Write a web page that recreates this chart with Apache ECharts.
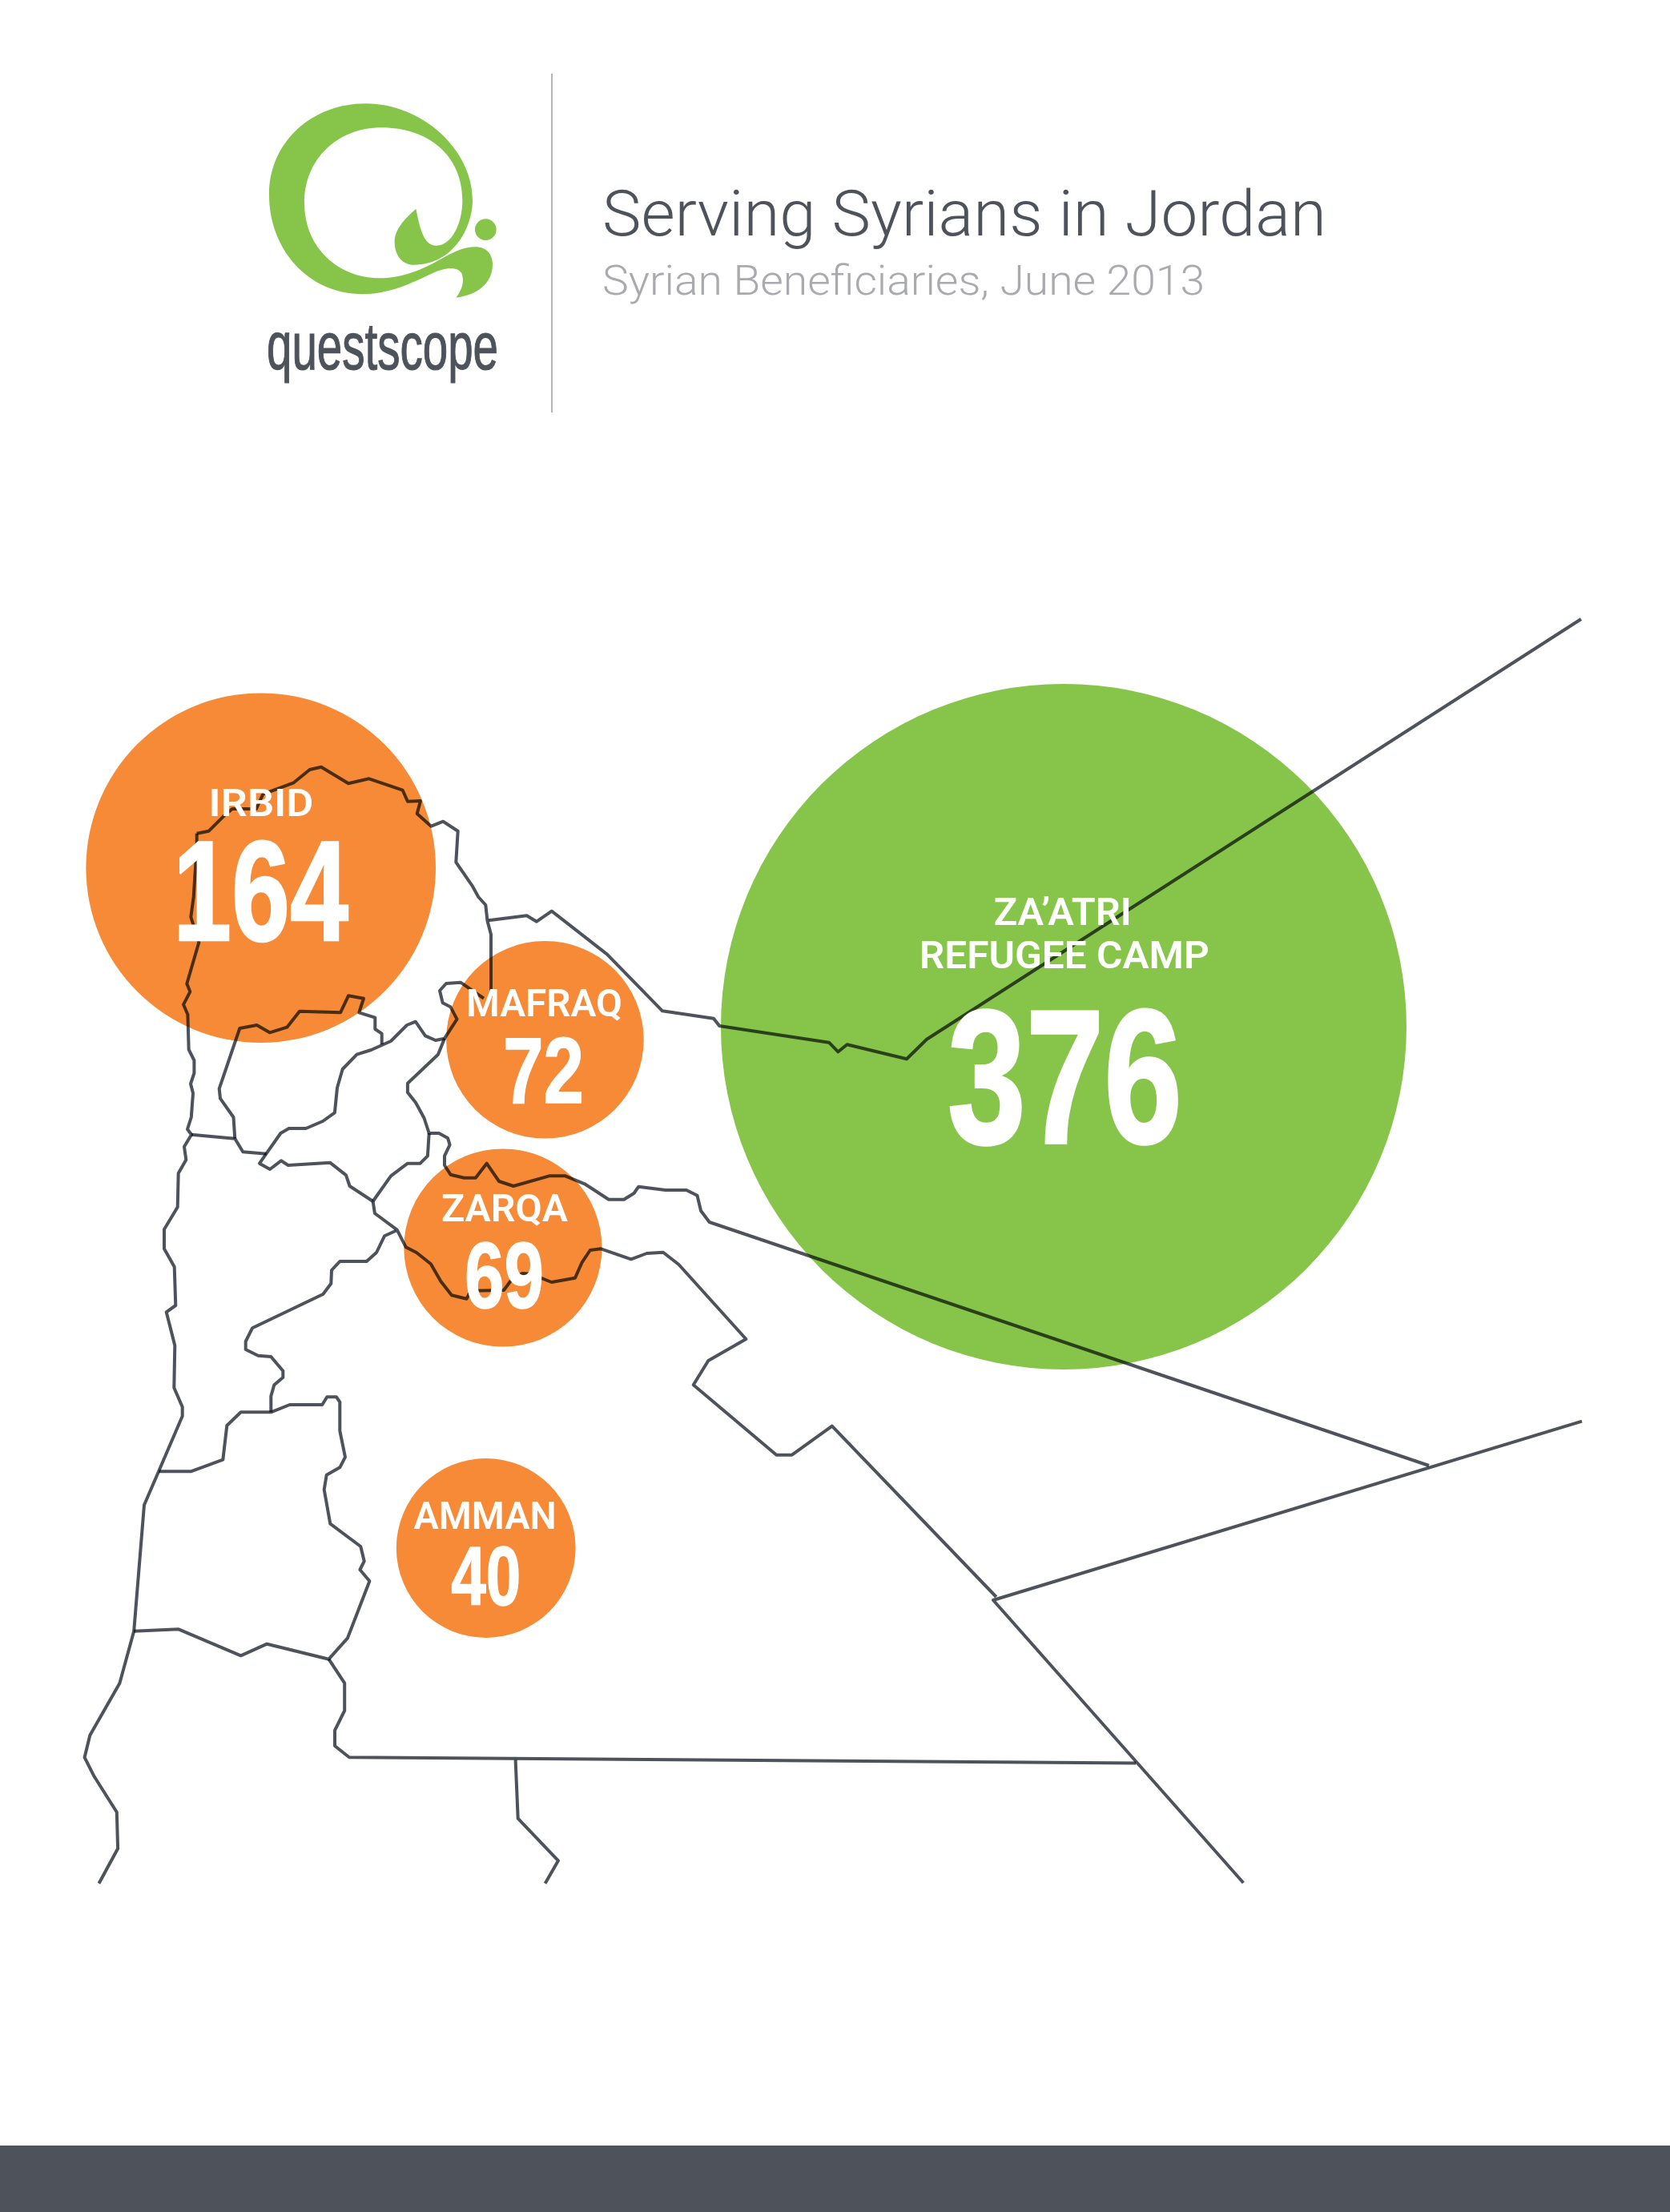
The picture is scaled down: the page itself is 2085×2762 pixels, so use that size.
<!DOCTYPE html>
<html>
<head>
<meta charset="utf-8">
<title>Serving Syrians in Jordan</title>
<style>
  html, body { margin: 0; padding: 0; background: #fff; }
  #chart { width: 2085px; height: 2762px; }
</style>
<script src="https://cdn.jsdelivr.net/npm/echarts@6/dist/echarts.min.js"></script>
</head>
<body>
<div id="chart"></div>
<script>
// data
var titleText = 'Serving Syrians in Jordan';
var subtitleText = 'Syrian Beneficiaries, June 2013';
var logoText = 'questscope';
var regionNames = ['IRBID', 'MAFRAQ', 'ZARQA', 'AMMAN', 'ZA\u2019ATRI\nREFUGEE CAMP'];
var beneficiaries = [164, 72, 69, 40, 376];
var regionX = [325.7, 680.4, 627.9, 606.7, 1328];
var regionY = [1083.7, 1298.3, 1558, 1933, 1282];

// map borders, in the same units as the axes
var northBorder = [[245.7,1040.7],[260.7,1037.7],[280,1018.3],[290,1010],[320,1010],[328.3,991.7],[366.7,977.3],[386.7,961],[401,957.7],[435,978.3],[460.7,972.3],[502.7,986.7],[509,1000.7],[525,1000],[520.7,1016],[538.3,1031.7],[553.3,1025.7],[571.7,1037.7],[569.3,1076.7],[590,1106.7],[597.3,1120],[606.3,1130],[608.5,1150],[613,1166.7],[613,1245]];
var mafraqLoop = [[604,1246.7],[575,1226.7],[557,1228],[549,1237],[552.7,1252.3],[562.5,1257.3],[570.5,1272.7],[555,1296.7],[543.8,1299],[531,1293.3],[518.8,1275.7],[508,1280],[488,1300],[463.4,1311],[445.5,1316.7],[427.7,1335],[421,1358.3],[417.9,1389.3],[403,1400],[382,1409],[360.7,1409],[350.4,1415],[331.7,1441.7],[324,1452.7],[337,1460],[350.9,1449.3],[359.8,1455],[412,1451.7],[432,1467.3],[436.6,1481],[465.6,1500]];
var centralBorder = [[555,1296.7],[546.9,1316.7],[508.9,1352.7],[508.9,1364],[519,1376.7],[529.5,1396],[535.7,1415],[548,1415],[559,1421],[561.6,1429.3],[555,1443.3],[555,1455],[562.5,1466.7],[579.5,1470.7],[593.8,1470.7],[607.6,1452.7],[623,1475],[641,1481],[685.7,1468.3],[705.8,1468.3],[730,1478.3],[760,1497.7],[779,1497.7],[791.5,1490],[797.3,1481.7],[830.8,1486],[857,1486],[870.5,1492.7],[875,1511.7],[885.7,1526],[1784,1830]];
var zarqaWest = [[535.7,1415],[533.9,1443.3],[524.6,1452.7],[508.9,1452.7],[488,1468.3],[465.6,1500]];
var southBorder = [[465.6,1500],[467.9,1515],[495.7,1535.7],[506.8,1557.3],[520,1564],[537.9,1578.3],[550.4,1600],[563.9,1617.3],[582.5,1621.7],[587.9,1611.7],[629,1611],[637.9,1599],[652,1590],[662.9,1590.7],[688.6,1601],[718,1595.7],[726.4,1576.7],[736.8,1561],[750.4,1559.3],[787.9,1572.3],[807.5,1565],[828,1563.7],[847.5,1579],[931.4,1672],[884.3,1699],[865.7,1729.3],[969.4,1816.7],[988.8,1816.7],[1038.8,1780.7],[1243.8,1994]];
var eastBorder = [[1975,1774.7],[1240,1998],[1552.4,2351]];
var northEastBorder = [[610,1149.3],[657.6,1143.3],[670,1150.7],[688.8,1137.7],[758,1191.7],[827,1262.3],[891,1271.7],[898.2,1281],[1035,1301.7],[1046.4,1313.3],[1057.6,1304.3],[1132,1322.3],[1157,1297.7],[1974,773]];
var westBorder = [[245.7,1040.7],[245.7,1057],[241.7,1120],[238.3,1145],[248.3,1176.7],[233.3,1228.3],[237.3,1238.3],[229,1254.3],[234.4,1266.7],[235.7,1310.7],[242.4,1324],[242.4,1340],[238,1353.3],[241,1365],[238.8,1395],[234,1410],[239,1416.7],[230,1431.7],[232.3,1448.3],[222.7,1465],[221.7,1507.3],[205,1535],[205,1559.3],[217.7,1581.7],[219.3,1630],[207.7,1638.3],[218.3,1680],[217.3,1732.7],[227.7,1756.7],[227.7,1768.3],[198.3,1836.7],[180,1879.3],[167.2,2036.7],[149.4,2101.7],[112.3,2166.7],[105.6,2194.3],[117.7,2218.3],[145.8,2262.7],[147.1,2308.3],[123.5,2351.7]];
var jarashBorder = [[239,1416.7],[293.3,1421.7],[303.3,1438.3],[332.7,1440.7]];
var irbidSouth = [[476.7,1304],[476.7,1290.7],[468.3,1285],[468.3,1270.7],[448.3,1264.3],[454,1246.7],[435,1243.3],[425,1264.3],[374,1262.7],[358.3,1282.7],[336.7,1289.3],[320.7,1280],[299.3,1284],[273.7,1359.3],[275,1371.7],[291.5,1395],[293.3,1421.7]];
var deadSeaBorder = [[198.3,1837.3],[238.3,1837.3],[278.3,1822.7],[283.3,1780],[300.7,1763.3],[338.3,1763.3],[361.7,1754],[402.3,1754],[408.3,1744.3],[420,1744.3],[424.3,1750.7],[424.3,1786.7],[431,1819.3],[424.3,1832.3],[407.7,1841.7],[404.7,1860],[412.3,1902.7],[450.3,1931],[454.7,1949.3],[449.4,1960],[461.4,1974.3],[433.8,2045.7],[410.5,2071.7],[333.3,2052.7],[300.7,2067.3],[223,2034.3],[167.2,2036.7]];
var ammanWest = [[338.3,1763.3],[338.3,1743.3],[342.3,1729.3],[353.3,1720],[353.3,1711.7],[338.3,1694],[322.3,1692.7],[306.7,1685],[306.7,1675],[315,1658.3],[403.3,1616],[413.3,1602.7],[414,1586],[424.3,1575],[457.7,1575],[470,1564],[480,1543.3],[494.3,1536.7]];
var maanBorder = [[410.5,2071.7],[430.2,2101.7],[430.2,2136],[418,2160.7],[418,2180],[436,2194.3],[1418,2201.6]];
var aqabaBorder = [[643.6,2197.3],[646.7,2270.7],[697,2323.3],[680.6,2351.7]];
var borders = [northBorder, mafraqLoop, centralBorder, zarqaWest, southBorder, eastBorder, northEastBorder, westBorder, jarashBorder, irbidSouth, deadSeaBorder, ammanWest, maanBorder, aqabaBorder];

// sizes and colours
var bubbleDiameter = [436.6, 246.6, 247.2, 223.8, 856];
var bubbleColor = ['#f68a36', '#f68a36', '#f68a36', '#f68a36', '#86c549'];
var slate = '#4e525b';
var green = '#86c549';
var numberFont = '"Liberation Sans Narrow","Liberation Sans"';
var nameFont = 'Roboto';
var lightFont = 'Roboto';

// [centre x, centre y, width] per text line
var nameBoxes = [[[326, 1007, 131]], [[679.5, 1257, 195]], [[630, 1513, 158]], [[605.6, 1897, 178]], [[1326.8, 1143, 172], [1328.8, 1197, 362]]];
// [centre x, centre y, width, font size]
var valueBoxes = [[325.5, 1125, 219, 178], [678.5, 1345, 101, 117], [629.6, 1601, 99, 117], [606.7, 1976, 87, 103], [1329.5, 1362, 293, 237]];

var measure = document.createElement('canvas').getContext('2d');
function fitScale(text, font, width) {
    measure.font = font;
    return width / measure.measureText(text).width;
}

var textRows = [];
regionNames.forEach(function(name, i) {
    name.split('\n').forEach(function(line, j) {
        var b = nameBoxes[i][j];
        textRows.push({ text: line, x: b[0], y: b[1], width: b[2], align: 'center', fill: '#fff', font: '600 48px ' + nameFont, stroke: 0 });
    });
});
beneficiaries.forEach(function(v, i) {
    var b = valueBoxes[i];
    textRows.push({ text: String(v), x: b[0], y: b[1], width: b[2], align: 'center', fill: '#fff', font: 'bold ' + b[3] + 'px ' + numberFont, stroke: b[3] * 0.014 });
});
textRows.push({ text: titleText, x: 752, y: 274, width: 904, align: 'left', fill: slate, font: '300 80px ' + lightFont, stroke: 0 });
textRows.push({ text: subtitleText, x: 752, y: 355, width: 752, align: 'left', fill: '#a9aaad', font: '300 52px ' + lightFont, stroke: 0 });
textRows.push({ text: logoText, x: 477.5, y: 438, width: 289, align: 'center', fill: slate, font: '84px ' + numberFont, stroke: 1.2 });

// logo outline, drawn at a third of these units
var logoPath = 'M470,148 C680,148 870,320 870,510 C870,610 800,752 650,752 C610,752 578,720 578,665 C578,620 615,580 658,542 ' +
    'C672,610 685,680 735,680 C790,680 832,600 832,510 C832,340 700,238 530,238 C360,238 240,360 240,520 C240,690 370,802 520,802 ' +
    'C620,802 700,760 770,720 C810,700 840,685 880,685 C920,685 945,710 945,750 C945,820 890,865 808,875 C835,840 838,810 830,785 ' +
    'C815,760 780,760 740,775 C660,810 570,862 460,862 C250,862 108,690 108,490 C108,290 270,148 470,148 Z ' +
    'M959,620 A40,40 0 1,0 879,620 A40,40 0 1,0 959,620 Z';

var myChart = echarts.init(document.getElementById('chart'), null, { renderer: 'canvas' });

var series = [{
    type: 'scatter',
    z: 1,
    silent: true,
    symbol: 'circle',
    symbolSize: function(val, params) { return bubbleDiameter[params.dataIndex]; },
    itemStyle: {
        opacity: 1,
        color: function(params) { return bubbleColor[params.dataIndex]; }
    },
    data: regionX.map(function(x, i) { return [x, regionY[i]]; })
}];

borders.forEach(function(border) {
    series.push({
        type: 'line',
        z: 2,
        silent: true,
        blendMode: 'multiply',
        showSymbol: false,
        lineStyle: { color: slate, width: 4, join: 'round' },
        data: border
    });
});

series.push({
    type: 'custom',
    z: 3,
    silent: true,
    data: textRows.map(function(r) { return [r.x, r.y]; }),
    renderItem: function(params, api) {
        var r = textRows[params.dataIndex];
        var p = api.coord([api.value(0), api.value(1)]);
        return {
            type: 'text',
            x: p[0],
            y: p[1],
            scaleX: fitScale(r.text, r.font, r.width),
            style: { text: r.text, fill: r.fill, font: r.font, align: r.align, verticalAlign: 'middle', stroke: r.stroke ? r.fill : null, lineWidth: r.stroke }
        };
    }
});

series.push({
    type: 'custom',
    coordinateSystem: 'none',
    z: 3,
    silent: true,
    data: [0],
    renderItem: function() {
        return {
            type: 'path',
            x: 300,
            y: 80,
            scaleX: 1 / 3,
            scaleY: 1 / 3,
            shape: { pathData: logoPath },
            style: { fill: green }
        };
    }
});

var option = {
    animation: false,
    backgroundColor: '#fff',
    tooltip: { show: false },
    grid: { left: 0, right: 0, top: 0, bottom: 0 },
    xAxis: { type: 'value', min: 0, max: 2085, show: false },
    yAxis: { type: 'value', min: 0, max: 2762, inverse: true, show: false },
    graphic: [
        { type: 'rect', shape: { x: 0, y: 2679, width: 2085, height: 83 }, style: { fill: slate } },
        { type: 'line', shape: { x1: 689, y1: 92, x2: 689, y2: 515 }, style: { stroke: '#b5b5b8', lineWidth: 2 } }
    ],
    series: series
};

myChart.setOption(option);
</script>
</body>
</html>
